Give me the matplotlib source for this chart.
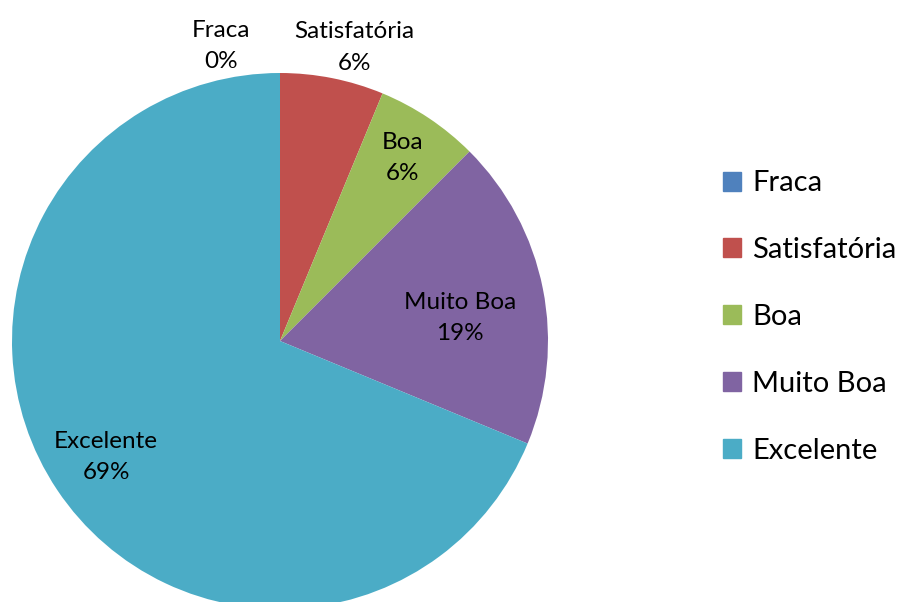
import matplotlib
matplotlib.use("Agg")
import matplotlib.pyplot as plt
import numpy as np

categories = ["Fraca", "Satisfatória", "Boa", "Muito Boa", "Excelente"]
counts = [0, 1, 1, 3, 11]
pct_labels = ["0%", "6%", "6%", "19%", "69%"]
colors = ["#4F81BD", "#C0504D", "#9BBB59", "#8064A2", "#4BACC6"]

plt.rcParams['font.family'] = ['Lato', 'DejaVu Sans']

fig = plt.figure(figsize=(9, 6.02), dpi=100)
W, H = 900, 602
cx, cy, r = 280, 341, 268
ax = fig.add_axes([(cx - r) / W, (H - cy - r) / H, 2 * r / W, 2 * r / H])
ax.set_xlim(-1, 1)
ax.set_ylim(-1, 1)
ax.set_aspect('equal')
ax.axis('off')

wedges, _ = ax.pie(counts, colors=colors, startangle=90, counterclock=False,
                   radius=1, wedgeprops=dict(linewidth=0))
ax.set_xlim(-1, 1)
ax.set_ylim(-1, 1)

# label placement: (radius factor, angle shift deg, x offset)
place = [(1.10, 0, -0.22), (1.13, -3, 0.0), (0.82, 0, 0.0), (0.677, -3.95, 0.0), (0.78, 0, 0.0)]
for w, cat, pl, (rf, da, dx) in zip(wedges, categories, pct_labels, place):
    ang = np.deg2rad((w.theta1 + w.theta2) / 2 + da)
    x = rf * np.cos(ang) + dx
    y = rf * np.sin(ang)
    ax.text(x, y, f"{cat}\n{pl}", ha='center', va='center', fontsize=17.5,
            linespacing=1.6, clip_on=False)

handles = [plt.Rectangle((0, 0), 1, 1, color=c) for c in colors]
fig.legend(handles, categories, loc='center left', bbox_to_anchor=(723 / W, 1 - 317 / H),
           frameon=False, fontsize=21, handlelength=0.62, handleheight=0.62,
           handletextpad=0.38, labelspacing=1.4, borderaxespad=0, borderpad=0)

fig.savefig("out.png", dpi=100)
